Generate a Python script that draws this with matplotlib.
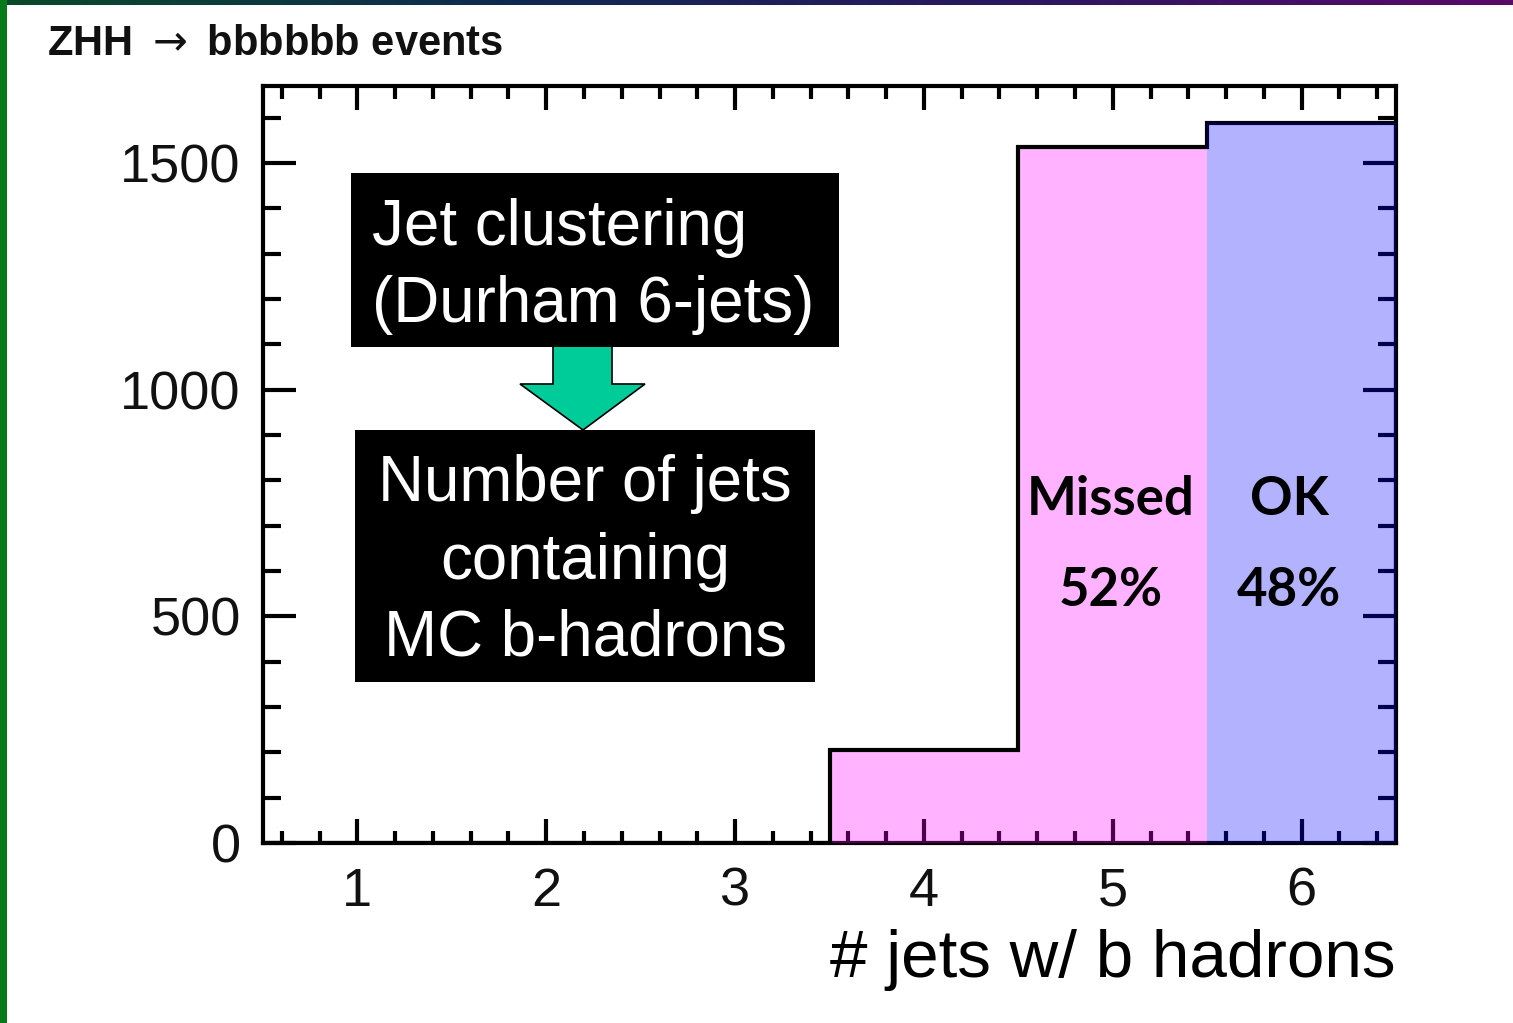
import numpy as np
import matplotlib
matplotlib.use("Agg")
import matplotlib.pyplot as plt
from matplotlib.patches import Rectangle, Polygon
from matplotlib.colors import LinearSegmentedColormap

# ---------------- data ----------------
bin_centers = [1, 2, 3, 4, 5, 6]
counts = [0, 0, 0, 205, 1535, 1588]
x_ticks = [1, 2, 3, 4, 5, 6]
y_ticks = [0, 500, 1000, 1500]
title = r"ZHH $\rightarrow$ bbbbbb events"
xlabel = "# jets w/ b hadrons"
box1_lines = ["Jet clustering", "(Durham 6-jets)"]
box2_lines = ["Number of jets", "containing", "MC b-hadrons"]
region_labels = ["Missed", "OK"]
region_pcts = ["52%", "48%"]

# ---------------- style ----------------
W, H = 1513, 1023
fig = plt.figure(figsize=(W / 100, H / 100), dpi=100)
fig.patch.set_facecolor("white")
SANS = ["Liberation Sans", "DejaVu Sans"]
plt.rcParams["mathtext.fontset"] = "dejavusans"

def fx(px):
    return px / W

def fy(py):
    return 1 - py / H

# slide border: green left strip + gradient top strip
bg = fig.add_axes([0, 0, 1, 1], zorder=-5)
bg.set_axis_off()
bg.set_xlim(0, W)
bg.set_ylim(H, 0)
bg.add_patch(Rectangle((0, 0), 7, H, color="#067a18", lw=0))
cmap = LinearSegmentedColormap.from_list("edge", ["#0a4a2a", "#102a50", "#2a1860", "#5a0a6a"])
grad = np.linspace(0, 1, 512)[None, :]
bg.imshow(grad, extent=[0, W, 5, 0], aspect="auto", cmap=cmap)

# ---------------- main axes ----------------
left, right, top, bottom = 263, 1396, 86, 843
ax = fig.add_axes([fx(left), fy(bottom), (right - left) / W, (bottom - top) / H])
ax.set_xlim(0.5, 6.5)
ax.set_ylim(0, 1670)

edges = np.concatenate([[bin_centers[0] - 0.5], np.array(bin_centers) + 0.5])
fill_colors = ["#ff00ff", "#ff00ff", "#ff00ff", "#ff00ff", "#ff00ff", "#0000ff"]
fill_z = [3, 3, 3, 3, 3, 6]
for c, v, col, z in zip(bin_centers, counts, fill_colors, fill_z):
    if v > 0:
        ax.bar(c, v, width=1.0, color=col, alpha=0.3, lw=0, zorder=z)
ax.stairs(counts, edges, color="black", lw=3.0, zorder=4)

for s in ax.spines.values():
    s.set_linewidth(3.0)
    s.set_zorder(2.5)

ax.set_xticks(x_ticks)
ax.set_xticks(np.arange(0.6, 6.5, 0.2), minor=True)
ax.set_yticks(y_ticks)
ax.set_yticks(np.arange(0, 1670, 100), minor=True)
ax.tick_params(axis="both", which="both", direction="in", top=True, right=True, width=3.0, color="black")
ax.tick_params(axis="y", which="major", length=24, pad=16)
ax.tick_params(axis="y", which="minor", length=13)
ax.tick_params(axis="x", which="major", length=17, pad=17)
ax.tick_params(axis="x", which="minor", length=9)
for lab in ax.get_xticklabels() + ax.get_yticklabels():
    lab.set_fontfamily(SANS)
    lab.set_fontsize(39)
    lab.set_color("#111111")

ax.set_xlabel(xlabel, fontsize=48.5, family=SANS, color="black")
ax.xaxis.set_label_coords(1.0, (bottom - 977) / (bottom - top))
ax.xaxis.label.set_ha("right")
ax.xaxis.label.set_va("baseline")

# region labels
tx = [1111, 1289]
for lbl, pct, x in zip(region_labels, region_pcts, tx):
    fig.text(fx(x), fy(515), lbl, ha="center", va="baseline", fontsize=38,
             fontweight="bold", family=["Lato", "DejaVu Sans"], zorder=10)
    fig.text(fx(x), fy(606), pct, ha="center", va="baseline", fontsize=38,
             fontweight="bold", family=["Lato", "DejaVu Sans"], zorder=10)

# title
fig.text(fx(47), fy(55), title, ha="left", va="baseline", fontsize=30,
         fontweight="bold", family=SANS, color="#111111")

# ---------------- overlay boxes and arrow ----------------
ov = fig.add_axes([0, 0, 1, 1], zorder=20)
ov.set_axis_off()
ov.set_xlim(0, W)
ov.set_ylim(H, 0)
ov.patch.set_alpha(0)

ov.add_patch(Polygon([[553, 340], [612, 340], [612, 384], [645, 384], [583, 430],
                      [520, 384], [553, 384]], closed=True, facecolor="#00cc99",
                     edgecolor="black", lw=1.2, zorder=1))
ov.add_patch(Rectangle((351, 173), 839 - 351, 347 - 173, color="black", lw=0, zorder=2))
ov.add_patch(Rectangle((355, 430), 815 - 355, 682 - 430, color="black", lw=0, zorder=2))

for line, yb in zip(box1_lines, [245, 322]):
    ov.text(372, yb, line, ha="left", va="baseline", fontsize=45.8, color="white", family=SANS, zorder=3)
for line, yb in zip(box2_lines, [501, 579, 655]):
    ov.text(585, yb, line, ha="center", va="baseline", fontsize=45.8, color="white", family=SANS, zorder=3)

fig.savefig("out.png", dpi=100, facecolor="white")
